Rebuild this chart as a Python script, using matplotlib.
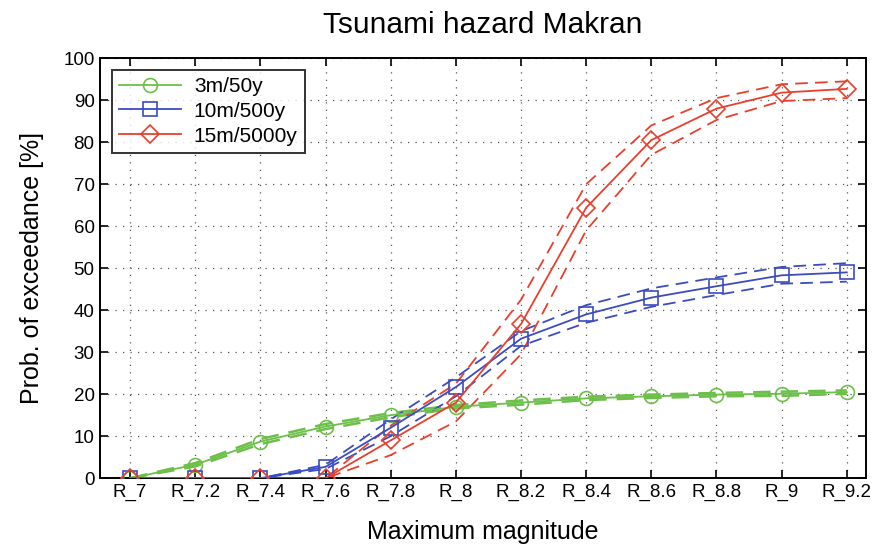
import matplotlib

matplotlib.use("Agg")
import matplotlib.pyplot as plt  # noqa: E402

plt.rcParams["font.family"] = ["Liberation Sans", "DejaVu Sans"]

# x categories
mags = ["R_7", "R_7.2", "R_7.4", "R_7.6", "R_7.8", "R_8",
        "R_8.2", "R_8.4", "R_8.6", "R_8.8", "R_9", "R_9.2"]

# 3m/50y
green = [0, 3.2, 8.7, 12.3, 15.0, 17.0, 18.0, 19.0, 19.5, 19.9, 20.1, 20.5]
green_hi = [0, 3.6, 9.3, 12.9, 15.5, 17.4, 18.5, 19.4, 19.9, 20.3, 20.6, 20.9]
green_lo = [0, 2.8, 8.1, 11.7, 14.5, 16.6, 17.5, 18.6, 19.1, 19.5, 19.6, 20.1]

# 10m/500y
blue = [0, 0, 0, 2.7, 12.0, 21.7, 33.2, 39.0, 43.0, 45.7, 48.3, 49.0]
blue_hi = [0, 0, 0, 3.2, 14.0, 24.0, 35.0, 41.2, 45.2, 47.8, 50.3, 51.2]
blue_lo = [0, 0, 0, 2.2, 10.0, 19.5, 31.5, 37.0, 40.8, 43.6, 46.3, 46.8]

# 15m/5000y
red = [0, 0, 0, 0, 9.0, 18.0, 36.7, 64.4, 80.5, 88.0, 91.8, 92.7]
red_hi = [0, 0, 0, 0, 12.5, 22.5, 42.5, 70.0, 84.0, 90.5, 93.8, 94.5]
red_lo = [0, 0, 0, 0, 5.5, 13.5, 29.5, 59.0, 77.0, 85.3, 89.8, 90.5]

GREEN = "#6cc04a"
BLUE = "#3b4cc0"
RED = "#e8402c"

x = list(range(len(mags)))

fig = plt.figure(figsize=(8.78, 5.44), dpi=100)
ax = fig.add_axes([0.114, 0.121, 0.872, 0.772])

series = [
    (green, green_hi, green_lo, GREEN, "o", "3m/50y", 1.8),
    (blue, blue_hi, blue_lo, BLUE, "s", "10m/500y", 1.3),
    (red, red_hi, red_lo, RED, "D", "15m/5000y", 1.3),
]
for vals, hi, lo, col, mk, lab, lw in series:
    ax.plot(x, hi, color=col, linewidth=lw, linestyle=(0, (7, 4)), zorder=2)
    ax.plot(x, lo, color=col, linewidth=lw, linestyle=(0, (7, 4)), zorder=2)
    ax.plot(x, vals, color=col, linewidth=1.3, marker=mk,
            markersize=10 if mk != "D" else 9, markerfacecolor="none",
            markeredgecolor=col, markeredgewidth=1.2, label=lab, zorder=3)

ax.set_xlim(-0.46, 11.29)
ax.set_ylim(0, 100)
ax.set_xticks(x)
ax.set_xticklabels(mags)
ax.set_yticks(range(0, 101, 10))
ax.tick_params(direction="in", labelsize=13.5, length=6, width=1.2,
               top=True, right=True, pad=4)
ax.grid(True, color="#555555", linestyle=(0, (1, 5)), linewidth=0.9)
for sp in ax.spines.values():
    sp.set_linewidth(1.4)

ax.set_title("Tsunami hazard Makran", fontsize=21.5, pad=18)
ax.set_xlabel("Maximum magnitude", fontsize=18, labelpad=14)
ax.set_ylabel("Prob. of exceedance [%]", fontsize=18, labelpad=14)

leg = ax.legend(loc="upper left", fontsize=15, frameon=True, fancybox=False,
                edgecolor="black", borderpad=0.35, handlelength=3.0,
                handletextpad=0.6, labelspacing=0.28, borderaxespad=0.55)
leg.get_frame().set_linewidth(1.4)

fig.savefig("out.png", dpi=100, facecolor="white")
